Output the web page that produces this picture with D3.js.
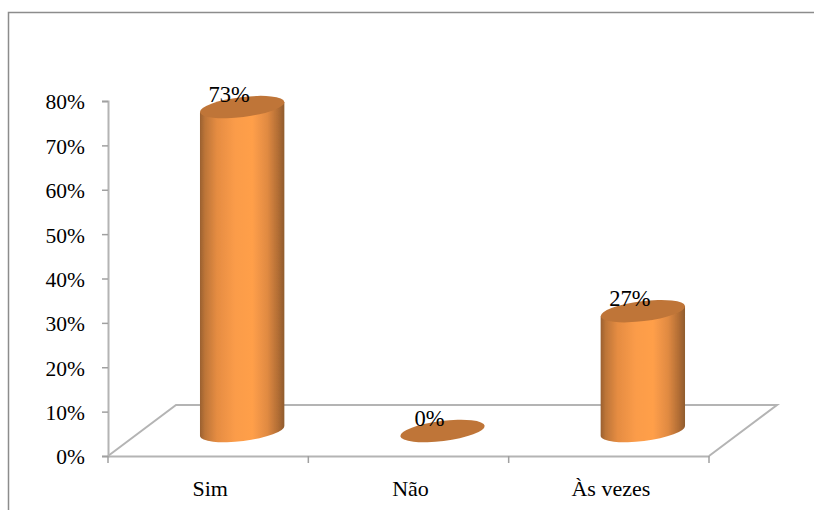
<!DOCTYPE html>
<html><head><meta charset="utf-8">
<script src="https://cdn.jsdelivr.net/npm/d3@7/dist/d3.min.js"></script>
<style>html,body{margin:0;padding:0;background:#fff;overflow:hidden}svg{display:block}
text{font-family:"Liberation Serif",serif;fill:#000}</style></head>
<body><svg id="c" width="814" height="510"></svg>
<script>
const categories = ["Sim", "Não", "Às vezes"];
const values = [0.73, 0, 0.27];
const valueLabels = ["73%", "0%", "27%"];
const yTicks = [0, 0.1, 0.2, 0.3, 0.4, 0.5, 0.6, 0.7, 0.8];

const svg = d3.select("#c");
const W = 814, H = 510;
const x0 = 108, x1 = 709, y0 = 456, yTop = 101;
const depthX = 68, depthY = -51;        // floor depth
const barDX = 34, barDY = -25;          // bar sits mid-depth
const rx = 42.5, ry = 10, tilt = -7;
const gray = "#b4b4b4";

const x = d3.scaleBand().domain(categories).range([x0, x1]);
const y = d3.scaleLinear().domain([0, 0.8]).range([y0, yTop]);

// frame (top & left only, cropped in the reference)
svg.append("path").attr("d", `M8.5,${H}V12.5H${W}`).attr("fill", "none").attr("stroke", "#8c8c8c").attr("stroke-width", 1.5);

// floor
const floor = d3.path();
floor.moveTo(x0, y0); floor.lineTo(x0 + depthX, y0 + depthY);
floor.lineTo(x1 + depthX, y0 + depthY); floor.lineTo(x1, y0);
svg.append("path").attr("d", floor.toString()).attr("fill", "none").attr("stroke", gray).attr("stroke-width", 2);

// axes
const gy = svg.append("g").attr("transform", `translate(${x0},0)`)
  .call(d3.axisLeft(y).tickValues(yTicks).tickFormat(d3.format(".0%")).tickSize(6).tickPadding(17));
const gx = svg.append("g").attr("transform", `translate(0,${y0})`)
  .call(d3.axisBottom(x).tickSize(0).tickPadding(24));
gx.selectAll(".tick").append("line").attr("x1", -x.bandwidth()/2).attr("x2", -x.bandwidth()/2).attr("y1", 0).attr("y2", 7);
gx.append("line").attr("class", "endtick").attr("x1", x1).attr("x2", x1).attr("y1", 0).attr("y2", 7);
svg.selectAll(".domain").attr("stroke", gray).attr("stroke-width", 2);
svg.selectAll(".tick line, .endtick").attr("stroke", "#a0a0a0").attr("stroke-width", 1.5);
gy.selectAll("text").style("font-family", '"Liberation Serif",serif').style("font-size", "21.5px").attr("fill", "#000").attr("dy", "0.37em");
gx.selectAll("text").style("font-family", '"Liberation Serif",serif').style("font-size", "22px").attr("fill", "#000").attr("dx", 2);

// defs
const defs = svg.append("defs");
const grad = defs.append("linearGradient").attr("id", "cyl");
[[0, "#9a6030"], [0.06, "#bd7538"], [0.2, "#e58c42"], [0.42, "#fb9c49"], [0.62, "#ff9f4a"],
 [0.8, "#e08a42"], [0.93, "#b06c34"], [1, "#8f5c2e"]].forEach(s =>
  grad.append("stop").attr("offset", s[0]).attr("stop-color", s[1]));
defs.append("filter").attr("id", "soft").attr("x", "-5%").attr("y", "-5%").attr("width", "110%").attr("height", "110%")
  .append("feGaussianBlur").attr("stdDeviation", 0.7);

// bars
const t = tilt * Math.PI / 180;
const ex = rx * Math.cos(t), ey = rx * Math.sin(t);
const bars = svg.selectAll(".bar").data(categories).enter().append("g").attr("class", "bar").attr("filter", "url(#soft)");
bars.each(function(c, i) {
  const g = d3.select(this), cx = x(c) + x.bandwidth()/2 + barDX, yb = y(0) + barDY, yt = y(values[i]) + barDY;
  if (values[i] > 0) {
    g.append("path").attr("fill", "url(#cyl)").attr("d",
      `M${cx-ex},${yt-ey}L${cx-ex},${yb-ey}A${rx},${ry} ${tilt} 0 0 ${cx+ex},${yb+ey}L${cx+ex},${yt+ey}Z`);
  }
  g.append("ellipse").attr("cx", cx).attr("cy", yt).attr("rx", rx).attr("ry", ry)
    .attr("transform", `rotate(${tilt} ${cx} ${yt})`).attr("fill", "#bf7538");
});

// value labels
svg.selectAll(".vl").data(categories).enter().append("text").attr("class", "vl")
  .attr("x", c => x(c) + x.bandwidth()/2 + barDX - 13)
  .attr("y", (c, i) => y(values[i]) + barDY - 5)
  .attr("text-anchor", "middle").style("font-size", "22.5px")
  .text((c, i) => valueLabels[i]);
</script></body></html>
